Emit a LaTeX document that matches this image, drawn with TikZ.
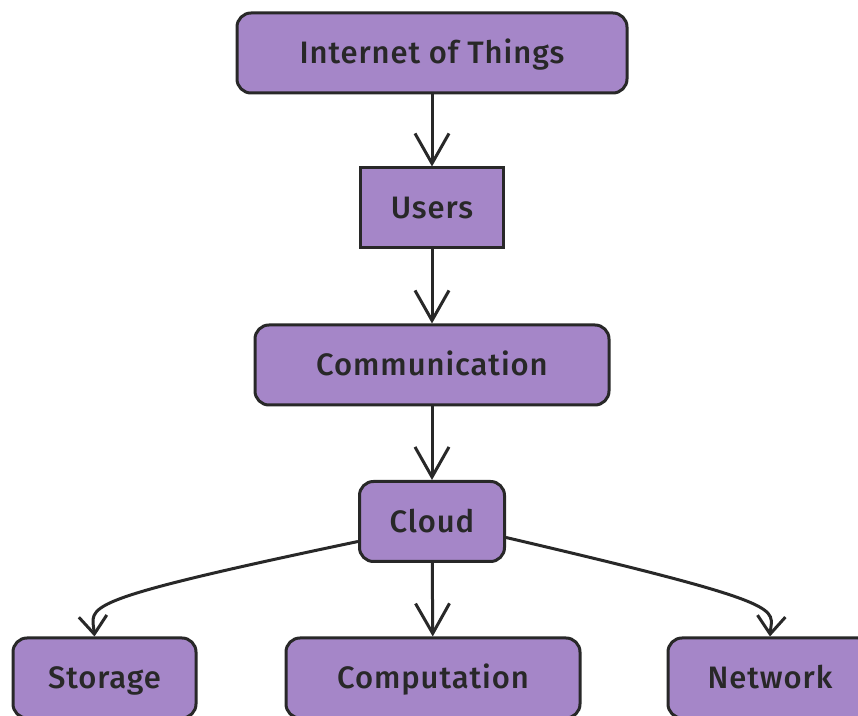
\documentclass[tikz,border=0pt]{standalone}
\usepackage{fontspec}
\setmainfont{Fira Sans Medium}[LetterSpace=3]
\usetikzlibrary{arrows.meta}
\definecolor{iotpurple}{RGB}{165,134,200}
\definecolor{inkgray}{RGB}{40,40,40}

\begin{document}
\begin{tikzpicture}[x=0.5pt, y=-0.5pt,
        block/.style={draw=inkgray, fill=iotpurple, line width=1.5pt, rounded corners=7pt,
            minimum height=40pt, text height=12pt, text depth=1.3pt, text=inkgray,
            font=\fontsize{15.5}{18}\selectfont},
        flow/.style={line width=1.5pt, draw=inkgray,
            -{Straight Barb[length=15pt, width=17pt, line width=1.5pt]}},
        bentflow/.style={flow, -{Straight Barb[length=9pt, width=14pt, line width=1.5pt]}}]
        \useasboundingbox (0,0) rectangle (858,716);
        \clip (0,0) rectangle (858,716);

        \node[block, minimum width=195pt] (iot) at (432,53) {Internet of Things};
        \node[block, sharp corners, minimum width=71.5pt] (users) at (432,208) {Users};
        \node[block, minimum width=177pt] (comm) at (432,365) {Communication};
        \node[block, minimum width=72.5pt] (cloud) at (432,521.5) {Cloud};

        \node[block, minimum width=91.5pt] (storage) at (104.5,678) {Storage};
        \node[block, minimum width=147pt] (comp) at (433,678) {Computation};
        \node[block, minimum width=102pt] (net) at (770,678) {Network};

        \draw[flow] (iot) -- (users);
        \draw[flow] (users) -- (comm);
        \draw[flow] (comm) -- (cloud);
        \draw[flow] (cloud) -- (comp);
        % side branches: long straight run, then a tight turn down
        \draw[bentflow] ([yshift=-10pt]cloud.west) .. controls (70,602) and (92,606) .. ([xshift=-5pt]storage.north);
        \draw[bentflow] ([yshift=-8pt]cloud.east) .. controls (795,605) and (772,608) .. (net.north);
    \end{tikzpicture}
\end{document}
